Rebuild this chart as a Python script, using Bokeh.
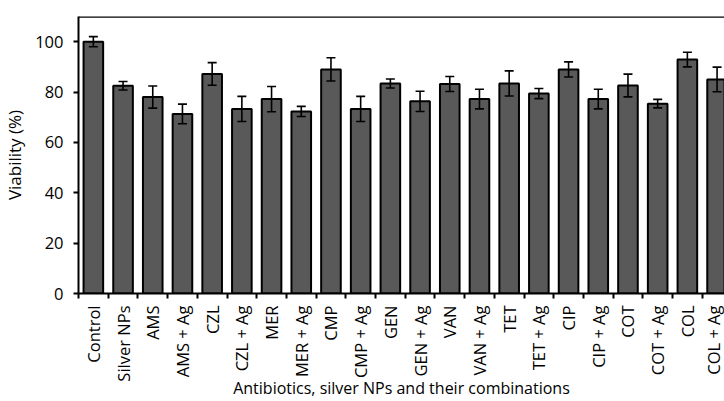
import math
from bokeh.plotting import figure
from bokeh.models import (ColumnDataSource, Range1d, FixedTicker, Whisker, TeeHead, Span)
from bokeh.embed import file_html
from bokeh.resources import INLINE

categories = ["Control", "Silver NPs", "AMS", "AMS + Ag", "CZL", "CZL + Ag",
              "MER", "MER + Ag", "CMP", "CMP + Ag", "GEN", "GEN + Ag",
              "VAN", "VAN + Ag", "TET", "TET + Ag", "CIP", "CIP + Ag",
              "COT", "COT + Ag", "COL", "COL + Ag"]
viability = [100.0, 82.5, 78.0, 71.3, 87.2, 73.3, 77.2, 72.3, 89.0, 73.3, 83.4, 76.3,
             83.2, 77.2, 83.4, 79.4, 89.0, 77.2, 82.6, 75.4, 92.9, 85.0]
errors = [2.0, 1.7, 4.4, 3.9, 4.5, 5.0, 5.0, 2.0, 4.6, 5.0, 1.8, 4.0,
          3.0, 3.9, 5.0, 2.0, 3.0, 3.9, 4.5, 1.7, 2.9, 4.9]
y_ticks = [0, 20, 40, 60, 80, 100]
x_title = "Antibiotics, silver NPs and their combinations"
y_title = "Viability (%)"

xs = list(range(len(categories)))
src = ColumnDataSource(dict(
    x=xs, top=viability,
    upper=[v + e for v, e in zip(viability, errors)],
    lower=[v - e for v, e in zip(viability, errors)],
))

FONT = "Open Sans"

p = figure(width=724, height=401, output_backend="svg", toolbar_location=None,
           x_range=Range1d(-0.5, 21.25), y_range=Range1d(0, 110),
           min_border_left=76, min_border_right=0, min_border_top=16, min_border_bottom=0)
p.outline_line_color = None
p.xgrid.visible = False
p.ygrid.visible = False
p.background_fill_color = "white"
p.border_fill_color = "white"

p.vbar(x="x", top="top", width=0.66, bottom=0, source=src,
       fill_color="#595959", line_color="black", line_width=2)

w = Whisker(source=src, base="x", upper="upper", lower="lower",
            line_color="black", line_width=1.6, level="overlay",
            upper_head=TeeHead(size=9, line_color="black", line_width=1.6),
            lower_head=TeeHead(size=9, line_color="black", line_width=1.6))
p.add_layout(w)

p.add_layout(Span(location=110, dimension="width", line_color="black", line_width=2.5))

# x axis
xa = p.xaxis[0]
xa.ticker = FixedTicker(ticks=xs, minor_ticks=[i + 0.5 for i in range(-1, len(categories))])
xa.major_label_overrides = {i: c for i, c in enumerate(categories)}
xa.major_label_orientation = math.pi / 2
xa.major_tick_line_color = None
xa.minor_tick_line_color = "black"
xa.minor_tick_line_width = 2
xa.minor_tick_in = 0
xa.minor_tick_out = 5
xa.axis_line_width = 2
xa.axis_line_color = "black"
xa.major_label_text_font = FONT
xa.major_label_text_font_size = "16.5px"
xa.major_label_text_color = "black"
xa.major_label_standoff = 6
xa.axis_label = x_title
xa.axis_label_text_font = FONT
xa.axis_label_text_font_size = "16px"
xa.axis_label_text_font_style = "normal"
xa.axis_label_text_color = "black"
xa.axis_label_standoff = -8

# y axis
ya = p.yaxis[0]
ya.ticker = FixedTicker(ticks=y_ticks)
ya.minor_tick_line_color = None
ya.major_tick_in = 0
ya.major_tick_out = 5
ya.major_tick_line_width = 2
ya.axis_line_width = 2
ya.axis_line_color = "black"
ya.major_label_text_font = FONT
ya.major_label_text_font_size = "16.5px"
ya.major_label_text_color = "black"
ya.major_label_standoff = 10
ya.axis_label = y_title
ya.axis_label_text_font = FONT
ya.axis_label_text_font_size = "17px"
ya.axis_label_text_font_style = "normal"
ya.axis_label_text_color = "black"
ya.axis_label_standoff = 6

open("out.html", "w").write(file_html(p, INLINE))
